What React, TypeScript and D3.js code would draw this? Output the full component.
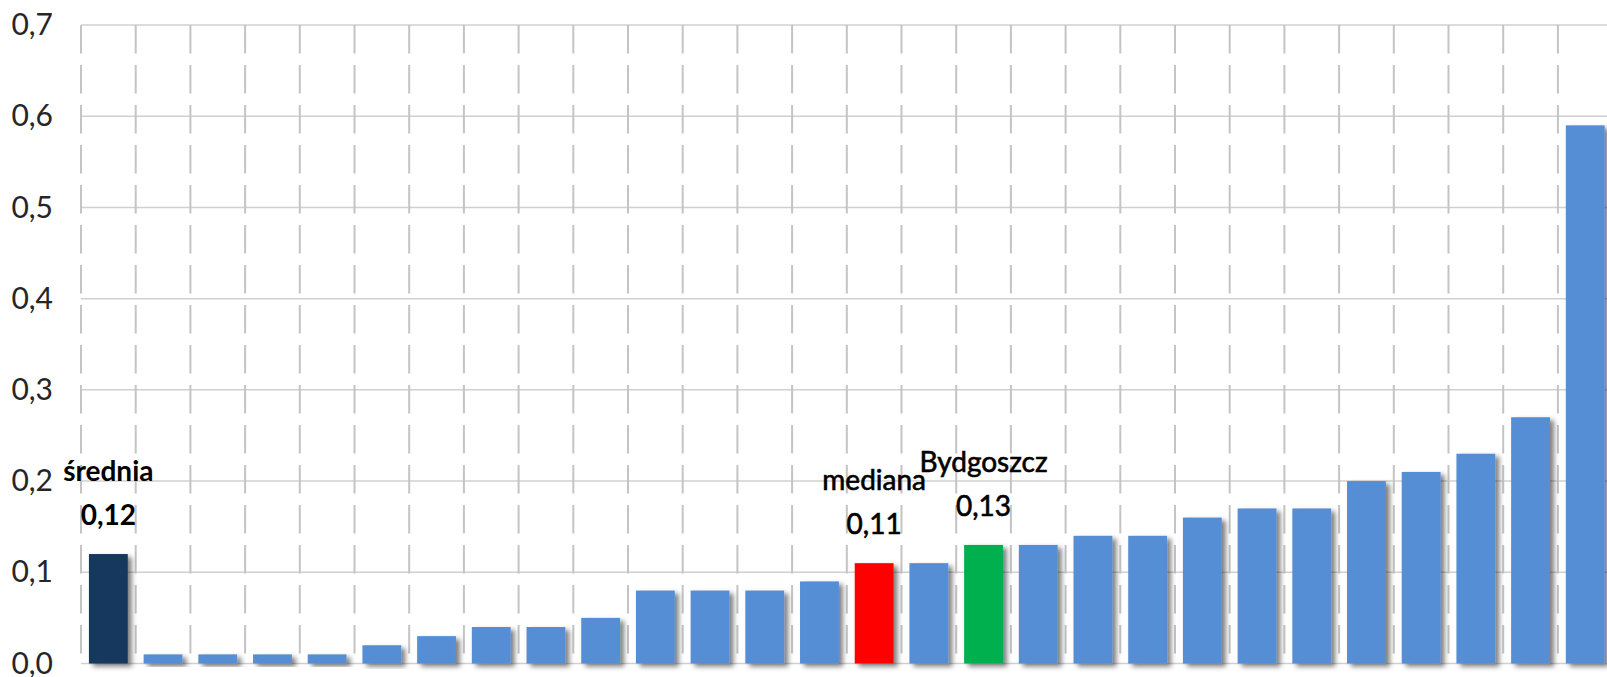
import React from "react";
import * as d3 from "d3";

// ---- data ----
const categories: string[] = [
  "średnia", "m1", "m2", "m3", "m4", "m5", "m6", "m7", "m8", "m9",
  "m10", "m11", "m12", "m13", "mediana", "m15", "Bydgoszcz", "m17", "m18", "m19",
  "m20", "m21", "m22", "m23", "m24", "m25", "m26", "m27",
];
const values: number[] = [
  0.12, 0.01, 0.01, 0.01, 0.01, 0.02, 0.03, 0.04, 0.04, 0.05,
  0.08, 0.08, 0.08, 0.09, 0.11, 0.11, 0.13, 0.13, 0.14, 0.14,
  0.16, 0.17, 0.17, 0.2, 0.21, 0.23, 0.27, 0.59,
];
const annotated: string[] = ["średnia", "mediana", "Bydgoszcz"];
const yTicks: number[] = [0, 0.1, 0.2, 0.3, 0.4, 0.5, 0.6, 0.7];

const W = 1607;
const H = 677;
const left = 81;
const step = 54.7;
const top = 25;
const bottom = 663.5;

const colorFor = (c: string) =>
  c === "średnia" ? "#17375E" : c === "mediana" ? "#FF0000" : c === "Bydgoszcz" ? "#00B050" : "#558ED5";

const fmt = (v: number, d: number) => v.toFixed(d).replace(".", ",");

export default function App() {
  const x = d3
    .scaleBand<string>()
    .domain(categories)
    .range([left, left + step * categories.length])
    .paddingInner(0.29)
    .paddingOuter(0.145);
  const y = d3.scaleLinear().domain([0, 0.7]).range([bottom, top]);
  const boundaries = d3.range(categories.length + 1).map((i) => left + i * step);
  const rightEdge = left + step * categories.length;

  return (
    <svg
      width={W}
      height={H}
      style={{ position: "absolute", left: 0, top: 0, background: "#fff" }}
      fontFamily="Lato, 'Open Sans', sans-serif"
    >
      <defs>
        <filter id="shadow" x="-20%" y="-20%" width="150%" height="150%">
          <feDropShadow dx="4" dy="3" stdDeviation="2.5" floodColor="#000" floodOpacity="0.5" />
        </filter>
      </defs>
      {/* horizontal gridlines */}
      {yTicks.map((t) => (
        <line key={"h" + t} x1={left} x2={rightEdge} y1={y(t)} y2={y(t)} stroke="#d0d0d0" strokeWidth={1.5} />
      ))}
      {/* vertical dashed gridlines */}
      {boundaries.map((bx, i) => (
        <line
          key={"v" + i}
          x1={bx}
          x2={bx}
          y1={top}
          y2={bottom}
          stroke="#c4c4c4"
          strokeWidth={2}
          strokeDasharray="28.5 11.5"
        />
      ))}
      {/* y labels */}
      {yTicks.map((t) => (
        <text
          key={"yl" + t}
          x={53}
          y={y(t)}
          dy="0.34em"
          textAnchor="end"
          fontSize={30}
          fill="#262626"
        >
          {fmt(t, 1)}
        </text>
      ))}
      {/* bars */}
      {categories.map((c, i) => (
        <rect
          key={"b" + i}
          x={x(c)}
          y={y(values[i])}
          width={x.bandwidth()}
          height={y(0) - y(values[i])}
          fill={colorFor(c)}
          filter="url(#shadow)"
        />
      ))}
      {/* annotations */}
      {categories.map((c, i) =>
        annotated.includes(c) ? (
          <g
            key={"a" + i}
            fontWeight={c === "średnia" ? 700 : 400}
            fill="#000"
            stroke={c === "średnia" ? "none" : "#000"}
            strokeWidth={0.6}
            textAnchor="middle"
          >
            <text x={(x(c) as number) + x.bandwidth() / 2} y={y(values[i]) - 29} fontSize={28}>
              {fmt(values[i], 2)}
            </text>
            <text x={(x(c) as number) + x.bandwidth() / 2} y={y(values[i]) - 29 - 44} fontSize={28}>
              {c}
            </text>
          </g>
        ) : null
      )}
    </svg>
  );
}
